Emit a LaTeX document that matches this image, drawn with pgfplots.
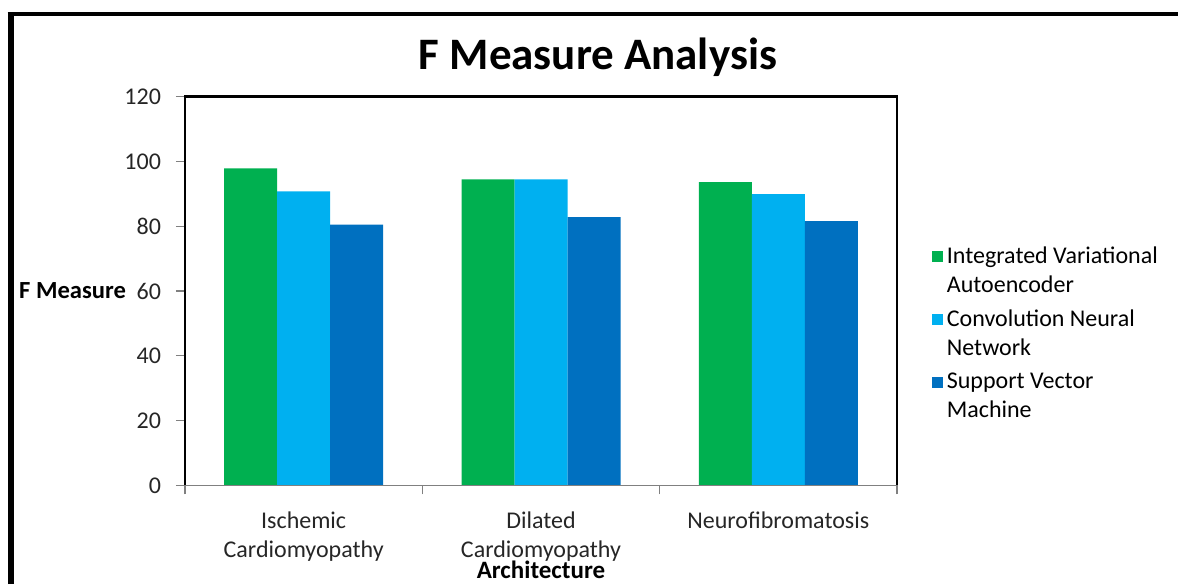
\documentclass[border=0pt]{standalone}
\usepackage{fontspec}
\setmainfont{Carlito}
\usepackage{pgfplots}
\pgfplotsset{compat=1.18}
\definecolor{cgreen}{HTML}{00B050}
\definecolor{ccyan}{HTML}{00B0F0}
\definecolor{cblue}{HTML}{0070C0}
\begin{document}
\begin{tikzpicture}
\useasboundingbox (0,0) rectangle (589pt,292pt);
\draw[line width=3pt] (5.35pt,0pt) -- (5.35pt,286.15pt);
\draw[line width=2pt] (3.85pt,285.15pt) -- (589pt,285.15pt);
\begin{axis}[
  at={(92.5pt,49.35pt)}, anchor=south west,
  scale only axis, width=356pt, height=194.3pt,
  ybar=0pt, bar width=26.5pt,
  xmin=-0.5, xmax=2.5, ymin=0, ymax=120,
  ytick={0,20,...,120},
  xtick={0,1,2},
  xticklabels={Ischemic\\Cardiomyopathy, Dilated\\Cardiomyopathy, Neurofibromatosis},
  minor xtick={-0.5,0.5,1.5,2.5},
  major x tick style={draw=none},
  minor tick length=4.5pt, major tick length=4.5pt,
  tick align=outside, tick pos=left,
  tick style={gray, line width=0.6pt},
  axis line style={draw=none},
  clip=false,
  font=\fontsize{12}{14.4}\selectfont,
  /pgf/number format/assume math mode=true,
  ticklabel style={font=\fontsize{12}{14.4}\selectfont, text=black!85},
  xticklabel style={align=center, yshift=-7.5pt, inner sep=1pt},
  yticklabel style={xshift=-4pt},
  title={\bfseries F Measure Analysis},
  title style={at={(rel axis cs:0.58,1)}, anchor=center, yshift=13.85pt, font=\fontsize{22.5}{26}\selectfont},
  xlabel={\bfseries Architecture},
  xlabel style={at={(rel axis cs:0.5,0)}, anchor=center, yshift=-42.3pt, inner sep=0.5pt, font=\fontsize{12.5}{15}\selectfont},
  every axis y label/.style={at={(rel axis cs:0,0.5)}, anchor=east, xshift=-26pt, font=\fontsize{12.3}{15}\selectfont},
  ylabel={\bfseries F Measure},
  legend cell align=left,
  legend style={draw=none, fill=none, at={(axis description cs:1.04,0.635)}, anchor=north west,
    font=\fontsize{12}{14.4}\selectfont, row sep=3.3pt, cells={align=left}},
  legend image code/.code={\draw[#1, draw=none] (0pt,4.45pt) rectangle (5.5pt,9.95pt);},
]
\addplot[fill=cgreen, draw=none] coordinates {(0,97.9) (1,94.5) (2,93.6)};
\addplot[fill=ccyan, draw=none] coordinates {(0,90.8) (1,94.5) (2,89.9)};
\addplot[fill=cblue, draw=none] coordinates {(0,80.5) (1,82.8) (2,81.6)};
\legend{Integrated Variational\\Autoencoder, Convolution Neural\\Network, Support Vector\\Machine}
\draw[black, line width=1.2pt] (rel axis cs:0,0) -- (rel axis cs:0,1) -- (rel axis cs:1,1) -- (rel axis cs:1,0);
\draw[gray, line width=0.8pt] (rel axis cs:0,0) -- (rel axis cs:1,0);
\end{axis}
\end{tikzpicture}
\end{document}
